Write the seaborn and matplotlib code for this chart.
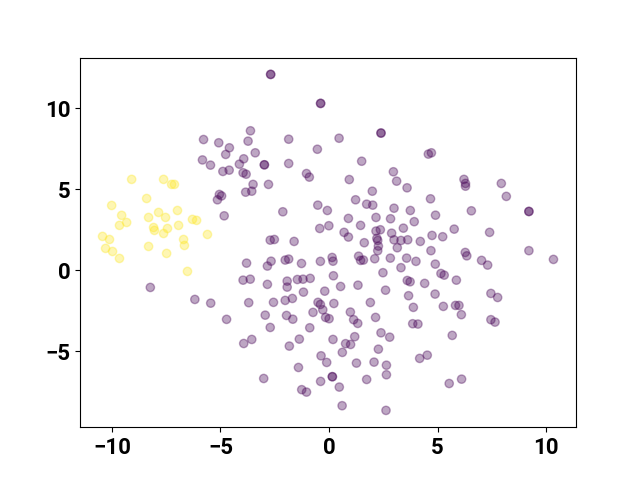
import numpy as np
import pandas as pd
import matplotlib
matplotlib.use("Agg")
import matplotlib.pyplot as plt
import seaborn as sns

# cluster 0 (purple)
purple_x = [
    -2.69, -2.69, -0.39, -0.39, -3.62, -5.78, -5.08, -4.59, -3.73, -1.86,
    -4.76, -3.40, -0.54, -5.83, -5.46, -4.89, -4.60, -4.13, -3.93, -2.98,
    -2.98, -1.86, -3.96, -3.82, -1.04, -0.91, -3.50, -2.79, -3.84, -3.56,
    -5.05, -4.95, -5.14, -0.52, -0.08, -2.13, -4.83, -0.43, -0.01, -2.71,
    -2.52, -1.61,
    0.46, 2.39, 2.39, 1.50, 4.57, 4.71, 0.93, 2.96, 3.11, 3.59,
    1.99, 1.22, 1.73, 2.01, 4.67, 2.99, 3.74, 4.90, 0.89, 2.16,
    2.83, 1.45, 3.92, 3.42, 0.69, 0.89, 2.16, 2.36, 2.88, 2.20,
    2.24, 2.99, 3.31, 3.62, 4.20, 4.74, 5.23, 5.76, 1.62,
    6.21, 6.28, 6.28, 7.93, 8.16, 6.55, 9.20, 9.20, 7.39,
    -3.80, -2.84, -2.67, -2.02, -1.86, -1.27, -0.40, -3.96, -3.63, -2.84,
    -1.93, -1.93, -1.46, -1.20, -0.87, -1.18, -0.20, -5.45, -3.70, -2.56,
    -2.02, -1.69, -0.51, -0.40, -0.29, -0.74, -4.72, -2.94, -1.96, -1.67,
    -2.71, -0.89, -0.16, 0.00, -3.93, -3.56, -1.83, -1.37, -0.37, -0.11,
    -1.41, -3.01, -1.26, -1.04, -0.39,
    2.27, 2.24, 3.14, 4.69, 0.14, 0.18, 1.36, 1.45, 1.58, 2.10,
    2.82, 3.57, 4.00, 3.31, 4.89, 5.15, 5.30, 2.48, 0.20, 0.53,
    1.33, 2.60, 3.60, 3.73, 4.40, 3.66, 4.88, 5.26, 3.88, 0.22,
    1.90, 0.98, 1.13, 1.32, 2.14, 3.85, 4.09, 2.39, 2.79, 0.18,
    1.18, 0.76, 0.99, 2.27, 0.61, 5.67, 1.26, 2.07, 2.64, 2.64,
    4.17, 4.52, 0.15, 0.15, 1.73, 0.47, 5.53, 0.60, 2.62,
    6.27, 6.34, 7.02, 7.30, 9.20, 10.33, 5.86, 7.45, 7.76, 5.82,
    5.98, 6.09, 7.45, 7.64, 6.10,
    -8.23, -6.18,
]
purple_y = [
    12.10, 12.10, 10.31, 10.31, 8.62, 8.08, 7.88, 7.57, 7.98, 8.10,
    7.16, 7.26, 7.48, 6.82, 6.50, 6.11, 6.19, 6.56, 6.89, 6.52,
    6.52, 6.60, 6.03, 5.94, 5.98, 5.76, 5.31, 5.31, 4.83, 4.89,
    4.69, 4.60, 4.36, 4.03, 3.70, 3.62, 3.37, 2.59, 2.76, 1.87,
    1.91, 1.79,
    8.16, 8.48, 8.48, 6.74, 7.18, 7.26, 5.61, 6.09, 5.51, 5.10,
    4.89, 4.36, 4.09, 4.03, 4.42, 3.84, 3.70, 3.41, 3.21, 3.27,
    3.19, 2.78, 3.01, 2.61, 2.35, 2.06, 2.43, 2.51, 2.30, 1.98,
    1.85, 1.89, 1.85, 1.89, 1.79, 2.16, 2.08, 2.55, 1.71,
    5.62, 5.37, 5.20, 5.37, 4.57, 3.68, 3.64, 3.64, 2.35,
    0.45, 0.27, 0.57, 0.64, 0.70, 0.43, 0.56, -0.60, -0.54, -0.86,
    -0.66, -1.03, -0.56, -0.54, -0.49, -1.34, -1.28, -2.02, -1.99, -1.97,
    -1.85, -1.73, -1.97, -2.10, -2.43, -2.59, -3.02, -2.76, -2.78, -3.01,
    -3.52, -3.54, -2.90, -2.98, -4.51, -4.26, -4.67, -4.24, -5.27, -5.68,
    -5.99, -6.67, -7.36, -7.51, -6.85,
    1.50, 1.22, 1.40, 1.22, 0.80, 0.57, 0.88, 0.62, 0.64, 0.72,
    0.76, 0.76, 0.56, 0.17, 0.39, -0.19, -0.29, -0.14, -0.33, -0.99,
    -0.91, -1.22, -0.62, -0.70, -0.80, -1.56, -1.46, -2.22, -2.28, -2.04,
    -1.98, -2.57, -3.04, -3.27, -2.90, -3.29, -3.31, -3.85, -4.12, -4.26,
    -4.09, -4.52, -4.57, -4.86, -5.06, -4.01, -5.72, -5.66, -5.85, -6.44,
    -5.43, -5.23, -6.56, -6.56, -6.73, -7.20, -6.98, -8.35, -8.64,
    1.11, 0.90, 0.62, 0.33, 1.22, 0.68, -0.60, -1.42, -1.67, -2.16,
    -2.16, -2.73, -3.04, -3.19, -6.71,
    -1.05, -1.79,
]

# cluster 1 (yellow)
yellow_x = [
    -9.09, -7.62, -7.25, -7.12, -8.40, -10.01, -9.55, -8.31, -7.85, -6.98,
    -9.32, -9.65, -7.53, -6.29, -6.10, -6.93, -8.08, -7.44, -8.04, -7.62,
    -10.43, -10.11, -6.70, -5.60, -8.31, -6.66, -10.29, -9.97, -9.65, -7.48,
    -6.52,
]
yellow_y = [
    5.62, 5.62, 5.31, 5.31, 4.44, 4.01, 3.40, 3.27, 3.58, 3.70,
    2.96, 2.78, 3.27, 3.15, 3.09, 2.78, 2.65, 2.59, 2.47, 2.28,
    2.10, 1.91, 1.91, 2.22, 1.48, 1.54, 1.36, 1.17, 0.74, 1.05,
    -0.06,
]

df = pd.DataFrame({
    "x": purple_x + yellow_x,
    "y": purple_y + yellow_y,
    "label": [0] * len(purple_x) + [1] * len(yellow_x),
})

plt.rcParams["font.family"] = ["Roboto", "DejaVu Sans"]
plt.rcParams["font.weight"] = "bold"

fig, ax = plt.subplots(figsize=(6.4, 4.8), dpi=100)
# viridis endpoints, as with c=labels
sns.scatterplot(data=df, x="x", y="y", hue="label",
                palette={0: "#440154", 1: "#fde725"},
                alpha=0.35, s=36, edgecolor="face", linewidth=1,
                legend=False, ax=ax)
ax.set_xlabel("")
ax.set_ylabel("")
ax.tick_params(labelsize=16)
for lbl in ax.get_xticklabels() + ax.get_yticklabels():
    lbl.set_fontweight("bold")

fig.savefig("out.png")
